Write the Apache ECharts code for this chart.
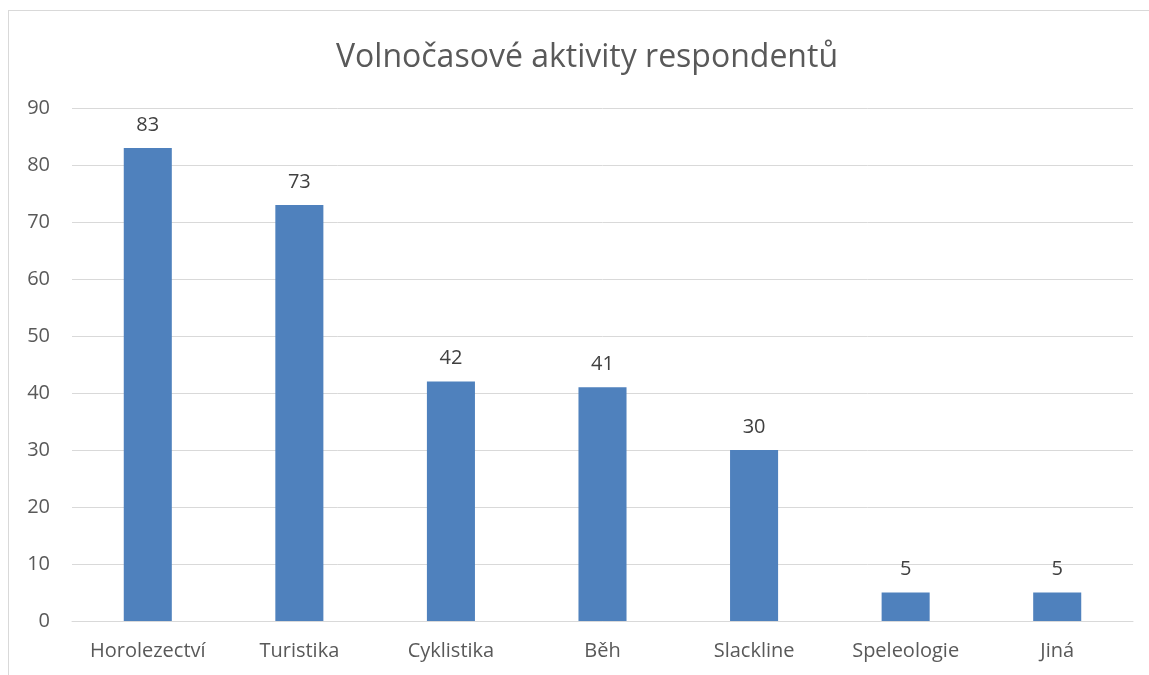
<!DOCTYPE html>
<html>
<head>
<meta charset="utf-8">
<script src="https://cdn.jsdelivr.net/npm/echarts@6/dist/echarts.min.js"></script>
<style>
  html, body { margin: 0; padding: 0; background: #fff; }
  #frame {
    position: absolute; left: 8px; top: 10px; width: 1160px; height: 700px;
    border: 1px solid #d9d9d9; box-sizing: border-box;
  }
  #chart { position: absolute; left: 0; top: 0; width: 1149px; height: 675px; }
</style>
</head>
<body>
<div id="frame"></div>
<div id="chart"></div>
<script>
  // data
  const categories = ['Horolezectví', 'Turistika', 'Cyklistika', 'Běh', 'Slackline', 'Speleologie', 'Jiná'];
  const counts = [83, 73, 42, 41, 30, 5, 5];

  const txt = '#595959';
  const fontFamily = '"Open Sans", sans-serif';

  let myChart = echarts.init(document.getElementById('chart'));
  myChart.setOption({
    animation: false,
    title: {
      text: 'Volnočasové aktivity respondentů',
      left: 331,
      top: 37,
      textStyle: { color: txt, fontSize: 32, fontWeight: 'normal', fontFamily: fontFamily }
    },
    grid: { left: 72, right: 16, top: 108, bottom: 54 },
    xAxis: {
      type: 'category',
      data: categories,
      axisLine: { show: true, lineStyle: { color: '#d9d9d9' } },
      axisTick: { show: false },
      axisLabel: { color: txt, fontSize: 20, fontFamily: fontFamily, margin: 20 }
    },
    yAxis: {
      type: 'value',
      min: 0, max: 90, interval: 10,
      axisLine: { show: false },
      axisTick: { show: false },
      splitLine: { lineStyle: { color: '#d9d9d9', width: 1 } },
      axisLabel: { color: txt, fontSize: 20, fontFamily: fontFamily, margin: 22 }
    },
    series: [{
      type: 'bar',
      data: counts,
      barWidth: '31.7%',
      itemStyle: { color: '#4f81bd' },
      label: {
        show: true, position: 'top', distance: 13,
        color: '#404040', fontSize: 20, fontFamily: fontFamily
      }
    }]
  });
</script>
</body>
</html>
